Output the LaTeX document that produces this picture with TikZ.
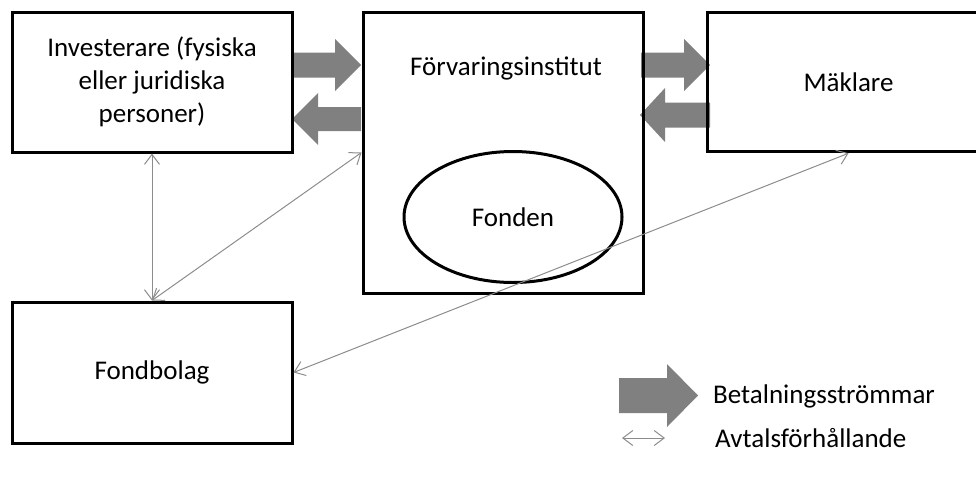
\documentclass[tikz,border=0pt]{standalone}
\usepackage{fontspec}
\setmainfont{Carlito}
\usetikzlibrary{arrows.meta,shapes.geometric}
\definecolor{thingray}{RGB}{140,140,140}
\definecolor{fatgray}{RGB}{128,128,128}
\newcommand\fatarr[6]{% tail x, head base x, tip x, centre y, shaft half, head half
  \fill[fatgray] (#1,#4-#5) -- (#2,#4-#5) -- (#2,#4-#6) -- (#3,#4) -- (#2,#4+#6) -- (#2,#4+#5) -- (#1,#4+#5) -- cycle;}
\begin{document}
\begin{tikzpicture}[x=1pt,y=-1pt,
  txt/.style={font=\fontsize{27}{33}\selectfont, text=black},
  box/.style={txt, draw=black, line width=3pt, inner sep=0pt, align=center},
  rel/.style={draw=thingray, line width=1pt, {Straight Barb[length=10pt,width=15pt]}-{Straight Barb[length=10pt,width=15pt]}}]
\useasboundingbox (0,0) rectangle (976,477);
\clip (0,0) rectangle (976,477);
% payment flows
\fatarr{292}{335}{361}{65}{12.5}{26}
\fatarr{361}{318}{292}{119}{12}{26}
\fatarr{641}{684}{710}{65}{12.5}{26}
\fatarr{710}{665}{640}{115}{12.5}{27}
% boxes
\node[box, minimum width=280pt, minimum height=140pt] (inv) at (152,82) {Investerare (fysiska\\eller juridiska\\personer)};
\node[box, minimum width=280pt, minimum height=281pt] (fi) at (503,152.5) {};
\node[txt, anchor=base, inner sep=0pt] (fitext) at (506,75) {Förvaringsinstitut};
\node[box, ellipse, minimum width=218pt, minimum height=131pt] (fonden) at (513,217) {Fonden};
\node[box, minimum width=283pt, minimum height=139.5pt] (mak) at (848.5,82) {Mäklare};
\node[box, minimum width=280pt, minimum height=141pt] (fb) at (152,372.5) {Fondbolag};
% agreements
\draw[rel] (inv.south) -- (fb.north);
\draw[rel] (fb.north) -- (fi.west);
\draw[rel] (fb.east) -- (mak.south);
% legend
\fatarr{619}{667}{698}{395.5}{17.5}{31.5}
\node[txt, anchor=west, inner sep=0pt] (lg1) at (713,396) {Betalningsströmmar};
\coordinate (la) at (622,438);
\coordinate (lb) at (665,438);
\draw[rel] (la) -- (lb);
\node[txt, anchor=west, inner sep=0pt] (lg2) at (715,438) {Avtalsförhållande};
\end{tikzpicture}
\end{document}
